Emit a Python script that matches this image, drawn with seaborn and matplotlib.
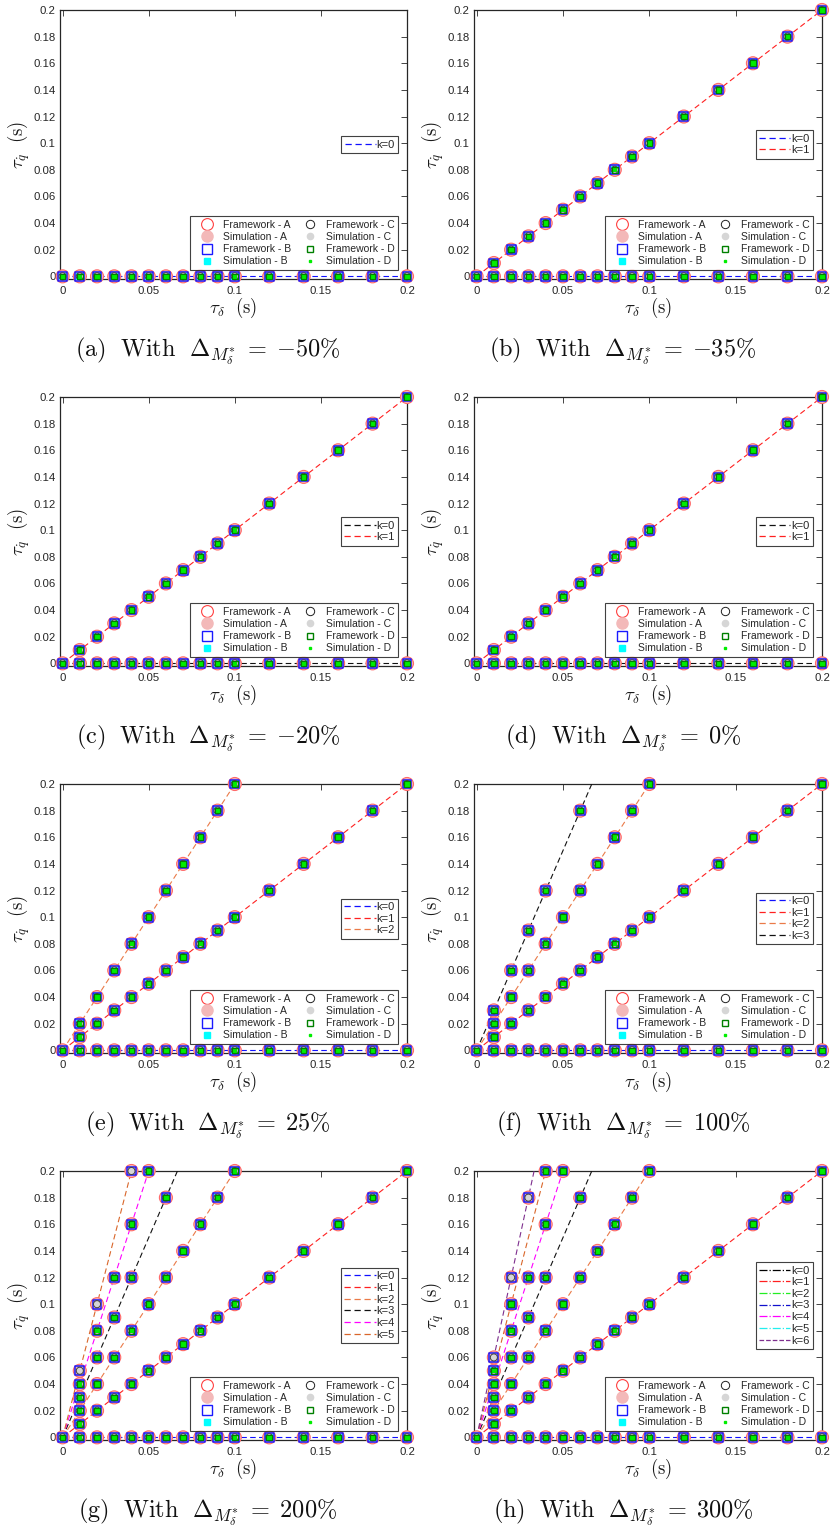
import numpy as np
import pandas as pd
import matplotlib
matplotlib.use("Agg")
import matplotlib.pyplot as plt
import seaborn as sns
from matplotlib.lines import Line2D

sns.set_theme(style="white")
plt.rcParams['font.family'] = ['Liberation Sans', 'DejaVu Sans']
plt.rcParams['mathtext.fontset'] = 'cm'

# ---------------- data ----------------
tau_delta_k0 = [0, 0.01, 0.02, 0.03, 0.04, 0.05, 0.06, 0.07, 0.08, 0.09, 0.1, 0.12, 0.14, 0.16, 0.18, 0.2]
tau_q_k0 = [0, 0, 0, 0, 0, 0, 0, 0, 0, 0, 0, 0, 0, 0, 0, 0]
tau_delta_k1 = [0.01, 0.02, 0.03, 0.04, 0.05, 0.06, 0.07, 0.08, 0.09, 0.1, 0.12, 0.14, 0.16, 0.18, 0.2]
tau_q_k1 = [0.01, 0.02, 0.03, 0.04, 0.05, 0.06, 0.07, 0.08, 0.09, 0.1, 0.12, 0.14, 0.16, 0.18, 0.2]
tau_delta_k2 = [0.01, 0.02, 0.03, 0.04, 0.05, 0.06, 0.07, 0.08, 0.09, 0.1]
tau_q_k2 = [0.02, 0.04, 0.06, 0.08, 0.1, 0.12, 0.14, 0.16, 0.18, 0.2]
tau_delta_k3 = [0.01, 0.02, 0.03, 0.04, 0.06]
tau_q_k3 = [0.03, 0.06, 0.09, 0.12, 0.18]
tau_delta_k4 = [0.01, 0.02, 0.03, 0.04, 0.05]
tau_q_k4 = [0.04, 0.08, 0.12, 0.16, 0.2]
tau_delta_k5 = [0.01, 0.02, 0.04]
tau_q_k5 = [0.05, 0.1, 0.2]
tau_delta_k6 = [0.01, 0.02, 0.03]
tau_q_k6 = [0.06, 0.12, 0.18]

points_x = [tau_delta_k0, tau_delta_k1, tau_delta_k2, tau_delta_k3, tau_delta_k4, tau_delta_k5, tau_delta_k6]
points_y = [tau_q_k0, tau_q_k1, tau_q_k2, tau_q_k3, tau_q_k4, tau_q_k5, tau_q_k6]

# theoretical k-lines: from origin to the top of the axes
line_start_x = [0, 0, 0, 0, 0, 0, 0]
line_start_y = [0, 0, 0, 0, 0, 0, 0]
line_end_x = [0.2, 0.2, 0.1, 0.0667, 0.05, 0.04, 0.0333]
line_end_y = [0, 0.2, 0.2, 0.2, 0.2, 0.2, 0.2]

panel_letters = ['a', 'b', 'c', 'd', 'e', 'f', 'g', 'h']
panel_delta = ['-50', '-35', '-20', '0', '25', '100', '200', '300']
panel_full_k = [[0], [0, 1], [0, 1], [0, 1], [0, 1, 2], [0, 1, 2, 3], [0, 1, 2, 3, 4], [0, 1, 2, 3, 4, 5]]
panel_conly_k = [[], [], [], [], [], [], [5], [6]]
panel_line_k = [[0], [0, 1], [0, 1], [0, 1], [0, 1, 2], [0, 1, 2, 3], [0, 1, 2, 3, 4, 5], [0, 1, 2, 3, 4, 5, 6]]

BLUE, RED, ORANGE, BLACK, MAGENTA, ORANGE2, PURPLE = '#1010ff', '#ff2020', '#ea7a48', '#111111', '#ff00ff', '#d9662a', '#7e2f8e'
panel_line_colors = [
    [BLUE],
    [BLUE, RED],
    [BLACK, RED],
    [BLACK, RED],
    [BLUE, RED, ORANGE],
    [BLUE, RED, ORANGE, BLACK],
    [BLUE, RED, ORANGE, BLACK, MAGENTA, ORANGE2],
    [BLUE, RED, ORANGE, BLACK, MAGENTA, ORANGE2, PURPLE],
]
# legend of panel (h) as drawn in the original
h_legend_colors = ['#000000', '#ff2020', '#22ee22', '#1010cc', '#ff00ff', '#22eeee', '#7e2f8e']
h_legend_styles = ['-.', '-.', '-.', '-.', '-.', '-.', '--']

x_ticks = [0, 0.05, 0.1, 0.15, 0.2]
x_tick_labels = ['0', '0.05', '0.1', '0.15', '0.2']
y_ticks = [0, 0.02, 0.04, 0.06, 0.08, 0.1, 0.12, 0.14, 0.16, 0.18, 0.2]
y_tick_labels = ['0', '0.02', '0.04', '0.06', '0.08', '0.1', '0.12', '0.14', '0.16', '0.18', '0.2']

# ---------------- styling ----------------
W, H = 831, 1537
fig = plt.figure(figsize=(W / 100, H / 100), dpi=100)
fig.patch.set_facecolor('white')

col_left = [60, 474]
col_width = [347, 348]
caption_cx = [208, 623]
row_top = [10, 397, 784, 1171]
ax_h = 269
EDGE = '#262626'
TICK_FS = 8.2
LEG_FS = 7.5

PINK = '#f3b9b9'
CYAN = '#00ffff'
GRAY = '#d6d6d6'
DGREEN = '#008000'
LGREEN = '#00ee00'


def scatter(ax, x, y, **kw):
    sns.scatterplot(x=x, y=y, ax=ax, legend=False, clip_on=False, **kw)


for i, letter in enumerate(panel_letters):
    r, c = divmod(i, 2)
    left = col_left[c]
    top = row_top[r]
    ax = fig.add_axes([left / W, 1 - (top + ax_h) / H, col_width[c] / W, ax_h / H])

    # k lines
    line_handles = []
    for k, colr in zip(panel_line_k[i], panel_line_colors[i]):
        sns.lineplot(x=[line_start_x[k], line_end_x[k]], y=[line_start_y[k], line_end_y[k]],
                     ax=ax, color=colr, linewidth=0.8, dashes=(5, 3), sort=False,
                     estimator=None, legend=False, zorder=2)
        line_handles.append(Line2D([], [], color=colr, lw=0.9, dashes=(5, 3), label=f'k={k}'))
    if letter == 'h':
        line_handles = [Line2D([], [], color=cc, lw=0.9, ls=ss, label=f'k={k}')
                        for k, (cc, ss) in enumerate(zip(h_legend_colors, h_legend_styles))]

    # points
    full_x = sum([points_x[k] for k in panel_full_k[i]], [])
    full_y = sum([points_y[k] for k in panel_full_k[i]], [])
    conly_x = sum([points_x[k] for k in panel_conly_k[i]], [])
    conly_y = sum([points_y[k] for k in panel_conly_k[i]], [])
    all_x = full_x + conly_x
    all_y = full_y + conly_y

    # Method A
    scatter(ax, all_x, all_y, marker='o', s=88, color=PINK, edgecolor='none', linewidth=0, zorder=3)
    scatter(ax, all_x, all_y, marker='o', s=88, facecolors='none', edgecolor='#ff6a6a', linewidth=0.8, zorder=4)
    # Method B
    scatter(ax, full_x, full_y, marker='s', s=30, color=CYAN, edgecolor='none', linewidth=0, zorder=5)
    scatter(ax, all_x, all_y, marker='s', s=40, facecolors='none', edgecolor='#1a1aff', linewidth=1.1, zorder=6)
    # Method C
    scatter(ax, all_x, all_y, marker='o', s=26, color=GRAY, edgecolor='none', linewidth=0, zorder=7)
    scatter(ax, all_x, all_y, marker='o', s=26, facecolors='none', edgecolor='#404040', linewidth=0.7, zorder=8)
    # Method D
    if full_x:
        scatter(ax, full_x, full_y, marker='s', s=15, color=LGREEN, edgecolor='none', linewidth=0, zorder=9)
        scatter(ax, full_x, full_y, marker='s', s=16, facecolors='none', edgecolor=DGREEN, linewidth=0.8, zorder=10)

    # axes formatting
    ax.set_xlim(-0.0015, 0.2)
    ax.set_ylim(-0.002, 0.2)
    ax.set_xticks(x_ticks)
    ax.set_xticklabels(x_tick_labels)
    ax.set_yticks(y_ticks)
    ax.set_yticklabels(y_tick_labels)
    ax.tick_params(direction='in', top=True, right=True, length=4, width=0.6,
                   colors=EDGE, labelsize=TICK_FS, pad=3)
    ax.tick_params(axis='x', pad=5)
    for sp in ax.spines.values():
        sp.set_color(EDGE)
        sp.set_linewidth(0.9)
        sp.set_zorder(1)
    ax.set_facecolor('white')
    ax.set_xlabel(r'$\tau_\delta\ \ (\mathrm{s})$', fontsize=13.5, labelpad=0, color='#1a1a1a')
    ax.set_ylabel(r'$\tau_{\dot{q}}\ \ (\mathrm{s})$', fontsize=13.5, labelpad=1, color='#1a1a1a')

    # legend of methods
    mh = [
        Line2D([], [], ls='none', marker='o', ms=8.5, mfc='none', mec='#ff4040', mew=0.8, label='Framework - A'),
        Line2D([], [], ls='none', marker='o', ms=8, mfc=PINK, mec=PINK, label='Simulation - A'),
        Line2D([], [], ls='none', marker='s', ms=6.5, mfc='none', mec='#1a1aff', mew=1.0, label='Framework - B'),
        Line2D([], [], ls='none', marker='s', ms=5, mfc=CYAN, mec=CYAN, label='Simulation - B'),
        Line2D([], [], ls='none', marker='o', ms=6, mfc='none', mec='#202020', mew=0.7, label='Framework - C'),
        Line2D([], [], ls='none', marker='o', ms=4.5, mfc=GRAY, mec=GRAY, label='Simulation - C'),
        Line2D([], [], ls='none', marker='s', ms=4, mfc='none', mec=DGREEN, mew=1.0, label='Framework - D'),
        Line2D([], [], ls='none', marker='s', ms=2, mfc=LGREEN, mec=LGREEN, label='Simulation - D'),
    ]
    leg1 = ax.legend(handles=mh, ncol=2, loc='lower right', bbox_to_anchor=(0.975, 0.033),
                     fontsize=LEG_FS, frameon=True, fancybox=False, edgecolor='#111111',
                     borderpad=0.35, labelspacing=0.22, handlelength=2.5, handletextpad=0.3,
                     columnspacing=0.55, borderaxespad=0)
    leg1.get_frame().set_linewidth(0.8)
    leg1.set_zorder(20)
    ax.add_artist(leg1)
    leg2 = ax.legend(handles=line_handles, loc='center right', bbox_to_anchor=(0.975, 0.5),
                     fontsize=LEG_FS + 0.5, frameon=True, fancybox=False, edgecolor='#111111',
                     borderpad=0.3, labelspacing=0.15, handlelength=2.8, handletextpad=0.1,
                     borderaxespad=0)
    leg2.get_frame().set_linewidth(0.8)
    leg2.set_zorder(20)

    # caption
    cx = caption_cx[c] / W
    cy = 1 - (top + ax_h + 78) / H
    delta = panel_delta[i]
    fig.text(cx, cy, r'$\mathrm{(' + letter + r')}\enspace\,\mathrm{With}\enspace\,\Delta_{M_{\delta}^{*}}\;=\;{'
             + delta + r'}\%$',
             ha='center', va='baseline', fontsize=17.5, color='#111111')

fig.savefig('out.png', dpi=100, facecolor='white')
